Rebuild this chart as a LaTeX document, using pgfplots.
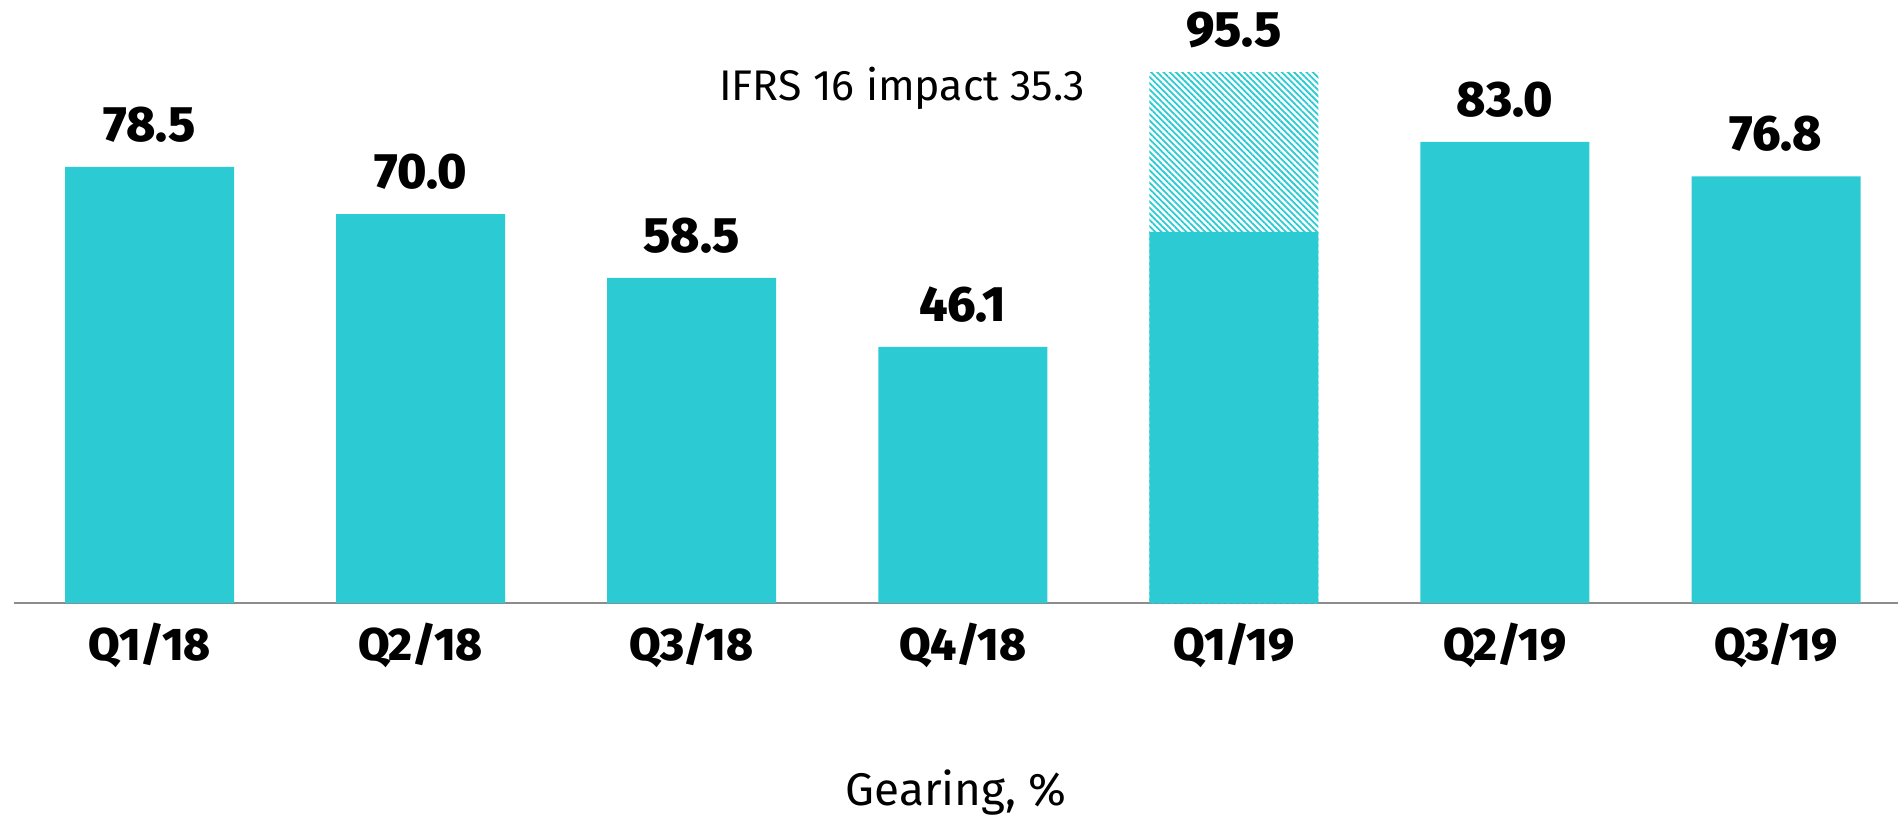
\documentclass[border=0pt]{standalone}
\usepackage{fontspec}
\setmainfont{Fira Sans}[BoldFont={Fira Sans ExtraBold}]
\usepackage{pgfplots}
\pgfplotsset{compat=1.18}
\usetikzlibrary{patterns.meta}
\definecolor{barteal}{RGB}{44,203,211}
\definecolor{axisgray}{RGB}{140,140,140}

\begin{document}
\begin{tikzpicture}
\path[use as bounding box] (-7bp,-108bp) rectangle (942bp,301.5bp);
\begin{axis}[
  scale only axis,
  width=942bp, height=277.8bp,
  xmin=-0.5, xmax=6.45, ymin=0, ymax=100,
  ybar, bar width=84.5bp, bar shift=0pt,
  axis y line=none,
  axis x line*=bottom,
  x axis line style={draw=axisgray, line width=1bp, -},
  xtick={0,...,6},
  xticklabels={Q1/18,Q2/18,Q3/18,Q4/18,Q1/19,Q2/19,Q3/19},
  major tick length=0pt,
  xticklabel style={font=\fontsize{23}{23}\selectfont\bfseries, anchor=base, yshift=-28.5bp},
  xlabel={Gearing, \%},
  xlabel style={at={(axis description cs:0.5,0)}, anchor=base, yshift=-101bp, font=\fontsize{23}{23}\selectfont},
  clip=false,
  /pgf/number format/assume math mode=true,
]
% IFRS 16 part of Q1/19 (hatched), drawn under the solid bars
\addplot[draw=none, pattern={Lines[angle=-45, distance=2.2bp, line width=0.9bp]}, pattern color=barteal] coordinates {(4,95.5)};
\addplot[fill=barteal, draw=none] coordinates {
  (0,78.5) (1,70.0) (2,58.5) (3,46.1) (4,66.8) (5,83.0) (6,76.8)
};
% totals, only for the labels
\addplot[draw=none, fill=none,
  nodes near coords,
  every node near coord/.append style={
    font=\fontsize{25}{25}\selectfont\bfseries, anchor=base, yshift=12.8bp,
    /pgf/number format/fixed, /pgf/number format/precision=1,
    /pgf/number format/fixed zerofill}
] coordinates {
  (0,78.5) (1,70.0) (2,58.5) (3,46.1) (4,95.5) (5,83.0) (6,76.8)
};
\node[font=\fontsize{21.5}{21.5}\selectfont] at (axis cs:2.777,92.7) {IFRS 16 impact 35.3};
\end{axis}
\end{tikzpicture}
\end{document}
